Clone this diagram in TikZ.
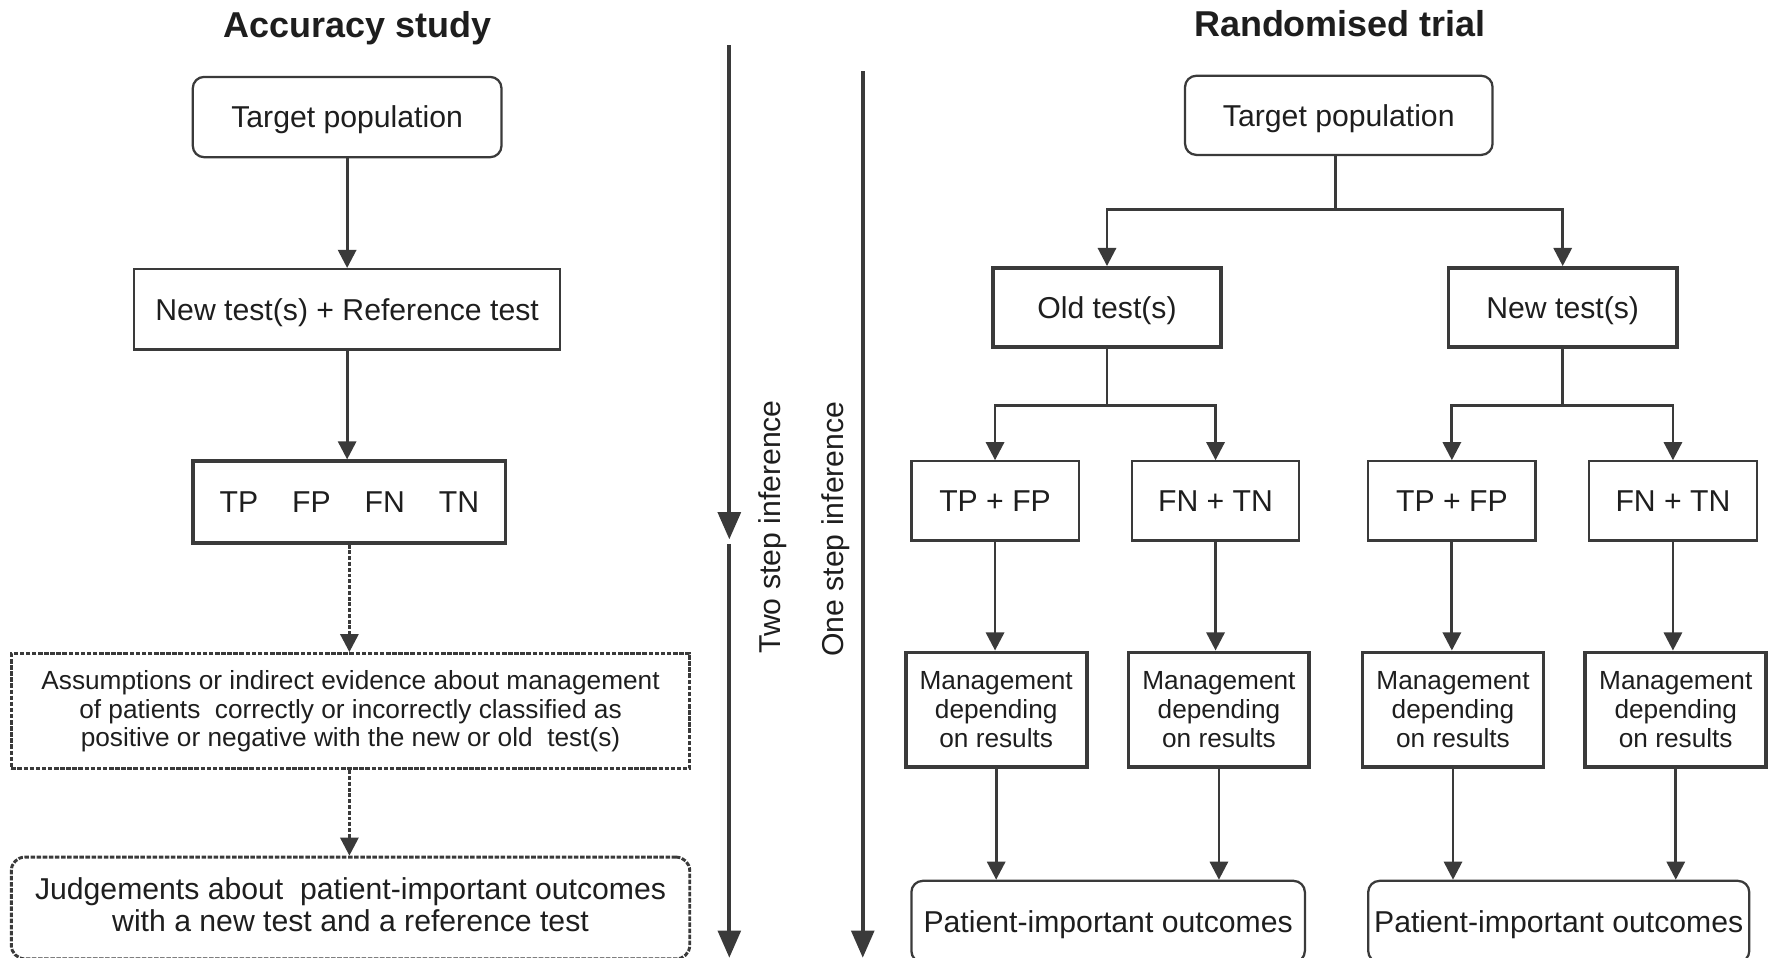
\documentclass[tikz,border=0pt]{standalone}
\usepackage{fontspec}
\setmainfont{Liberation Sans}
\usetikzlibrary{arrows.meta,calc}
\definecolor{ink}{HTML}{3A3A3A}
\definecolor{txt}{HTML}{1E1E1E}

\begin{document}
\begin{tikzpicture}[x=1pt,y=-1pt,
  every node/.style={text=txt, inner sep=0pt},
  bodytext/.style={font=\fontsize{26.7}{29}\selectfont},
  smalltext/.style={font=\fontsize{23.2}{25.5}\selectfont},
  headtext/.style={font=\fontsize{31.8}{36}\selectfont\bfseries, anchor=base},
  oneline/.style={text height=19.1pt, text depth=0pt},
  sz/.style 2 args={minimum width=#1, minimum height=#2},
  box/.style={draw=ink, line width=2pt, rectangle},
  boxthick/.style={draw=ink, line width=3.4pt, rectangle},
  roundbox/.style={box, rounded corners=10pt},
  dashbox/.style={draw=ink, line width=2.6pt, dash pattern=on 4pt off 1.4pt},
  joinline/.style={draw=ink, line width=2.2pt},
  link/.style={draw=ink, line width=2.5pt, -{Triangle[length=16pt,width=16pt]}},
  dlink/.style={link, line width=2.6pt, dash pattern=on 3.5pt off 1.6pt},
  infer/.style={draw=ink, line width=3.4pt, -{Triangle[length=24pt,width=20pt]}}
]
\useasboundingbox (0,0) rectangle (1568,847);

% ---------- Accuracy study ----------
\node[headtext] (hL) at (316.5,33) {Accuracy study};
\node[roundbox, bodytext, oneline, sz={273pt}{71pt}] (tpL) at (307,103.5) {Target population};
\node[box, bodytext, oneline, sz={377pt}{71pt}] (ntL) at (307,273.5) {New test(s) + Reference test};
\node[boxthick, bodytext, oneline, sz={276pt}{72pt}] (cellsL) at (309,444)
  {TP\hspace{30pt}FP\hspace{30pt}FN\hspace{30pt}TN};
\node[dashbox, smalltext, align=center, sz={600pt}{102pt}] (asmL) at (310,629)
  {Assumptions or indirect evidence about management\\
   of patients\ \ correctly or incorrectly classified as\\
   positive or negative with the new or old\ \ test(s)};
\node[dashbox, rounded corners=12pt, bodytext, align=center, sz={600pt}{90pt}] (judL) at (310,803)
  {Judgements about\ \ patient-important outcomes\\
   with a new test and a reference test\\[-23pt]};

\draw[link] (tpL.south) -- (ntL.north);
\draw[link] (ntL.south) -- (ntL.south |- cellsL.north);
\draw[dlink] (cellsL.south) -- (cellsL.south |- asmL.north);
\draw[dlink] (cellsL.south |- asmL.south) -- (cellsL.south |- judL.north);

% ---------- inference arrows ----------
\coordinate (twoTop) at (645,40);
\coordinate (twoMid) at (645,477);
\coordinate (twoMidB) at (645,481);
\coordinate (twoEnd) at (645,847);
\draw[infer] (twoTop) -- (twoMid);
\draw[infer] (twoMidB) -- (twoEnd);
\node[bodytext, oneline, rotate=90] (twoLbl) at (681,466) {Two step inference};

\coordinate (oneTop) at (763,63);
\coordinate (oneEnd) at (763,847);
\draw[infer] (oneTop) -- (oneEnd);
\node[bodytext, oneline, rotate=90] (oneLbl) at (736.5,468) {One step inference};

% ---------- Randomised trial ----------
\node[headtext] (hR) at (1185,32) {Randomised trial};
\node[roundbox, bodytext, oneline, sz={272pt}{70pt}] (tpR) at (1184,102) {Target population};
\node[boxthick, bodytext, oneline, sz={202pt}{70pt}] (oldR) at (979,272) {Old test(s)};
\node[boxthick, bodytext, oneline, sz={202pt}{70pt}] (newR) at (1382,272) {New test(s)};

\node[box, bodytext, oneline, sz={148pt}{70pt}] (pA) at (880,443) {TP + FP};
\node[box, bodytext, oneline, sz={148pt}{70pt}] (nA) at (1075,443) {FN + TN};
\node[box, bodytext, oneline, sz={148pt}{70pt}] (pB) at (1284,443) {TP + FP};
\node[box, bodytext, oneline, sz={149pt}{70pt}] (nB) at (1479.5,443) {FN + TN};

\node[boxthick, smalltext, align=center, sz={160pt}{101pt}] (mA) at (881,627.5) {Management\\depending\\on results};
\node[boxthick, smalltext, align=center, sz={160pt}{101pt}] (mB) at (1078,627.5) {Management\\depending\\on results};
\node[boxthick, smalltext, align=center, sz={160pt}{101pt}] (mC) at (1285,627.5) {Management\\depending\\on results};
\node[boxthick, smalltext, align=center, sz={160pt}{101pt}] (mD) at (1482,627.5) {Management\\depending\\on results};

\node[roundbox, bodytext, oneline, sz={348pt}{72pt}] (oA) at (980,815) {Patient-important outcomes};
\node[roundbox, bodytext, oneline, sz={337pt}{72pt}] (oB) at (1378.5,815) {Patient-important outcomes};

% randomisation split
\coordinate (sR) at (1181,185);
\draw[joinline] (tpR.south -| sR) -- (sR);
\draw[link] (sR) -| (oldR.north);
\draw[link] (sR) -| (newR.north);

% results split per arm
\path (oldR.south) ++(0,50) coordinate (sO);
\path (newR.south) ++(0,50) coordinate (sN);
\draw[joinline] (oldR.south) -- (sO);
\draw[joinline] (newR.south) -- (sN);
\draw[link] (sO) -| (pA.north);
\draw[link] (sO) -| (nA.north);
\draw[link] (sN) -| (pB.north);
\draw[link] (sN) -| (nB.north);

% results -> management -> outcomes
\foreach \r/\m/\o in {pA/mA/oA, nA/mB/oA, pB/mC/oB, nB/mD/oB}{
  \draw[link] (\r.south) -- (\r.south |- \m.north);
  \draw[link] (\m.south) -- (\m.south |- \o.north);
}
\end{tikzpicture}
\end{document}
